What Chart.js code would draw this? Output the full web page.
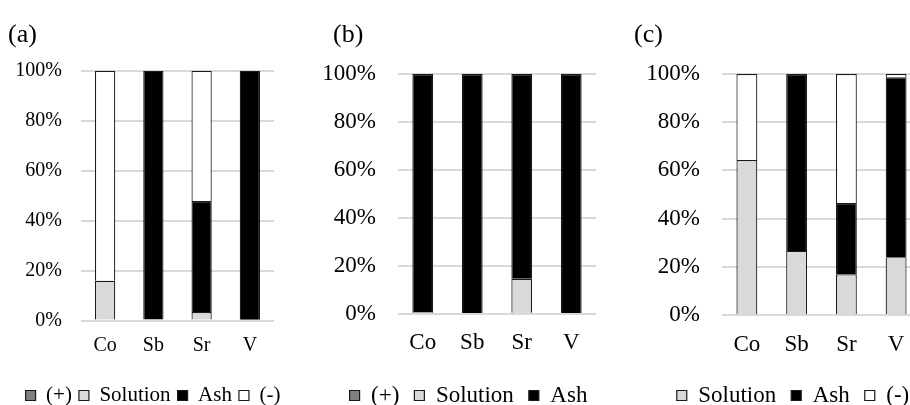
<!DOCTYPE html>
<html>
<head>
<meta charset="utf-8">
<script src="https://cdn.jsdelivr.net/npm/chart.js@4.4.1/dist/chart.umd.min.js"></script>
<style>
  html, body { margin: 0; padding: 0; background: #fff; overflow: hidden; }
  body { width: 910px; height: 405px; position: relative; }
  .box { position: absolute; top: 0; }
</style>
</head>
<body>
<div class="box" style="left:8px;width:290px;height:416px"><canvas id="chartA"></canvas></div>
<div class="box" style="left:318px;width:301px;height:417px"><canvas id="chartB"></canvas></div>
<div class="box" style="left:634px;width:318px;height:417px"><canvas id="chartC"></canvas></div>
<script>
// elements on the x axis
const elements = ['Co', 'Sb', 'Sr', 'V'];
const yTicks = [0, 20, 40, 60, 80, 100];

// (a) share of each element, %
const plusA = [0.5, 0.5, 0.5, 0];
const solutionA = [15.5, 0, 3, 0];
const ashA = [0, 99.5, 44.4, 100];
const minusA = [84, 0, 52.1, 0];

// (b)
const plusB = [0.5, 0, 0.5, 0];
const solutionB = [0.3, 0, 14.2, 0];
const ashB = [99.2, 100, 85.3, 100];

// (c)
const solutionC = [64.3, 26.6, 16.9, 24];
const ashC = [0, 73.4, 29.6, 74.6];
const minusC = [35.7, 0, 53.5, 1.4];

const serif = 'Liberation Serif, Times New Roman, serif';

// panel letter in the top left corner
const panelTitle = {
    id: 'panelTitle',
    afterDraw(chart, args, opts) {
        const ctx = chart.ctx;
        ctx.save();
        ctx.fillStyle = '#000';
        ctx.font = '26px ' + serif;
        ctx.textBaseline = 'middle';
        ctx.textAlign = 'left';
        ctx.fillText(opts.text, opts.x, 35);
        ctx.restore();
    }
};

function ds(label, values, fill) {
    return {
        label: label,
        data: values.map(v => v || null),
        backgroundColor: fill,
        borderColor: '#1a1a1a',
        borderWidth: 1.2,
        categoryPercentage: 1,
        barPercentage: 0.42
    };
}

function makeChart(id, title, datasets, opt) {
    new Chart(document.getElementById(id), {
        type: 'bar',
        data: { labels: elements, datasets: datasets },
        plugins: [panelTitle],
        options: {
            responsive: true,
            maintainAspectRatio: false,
            animation: false,
            layout: { padding: { left: 0, right: 0, top: opt.top, bottom: 0 } },
            plugins: {
                tooltip: { enabled: false },
                panelTitle: { text: title, x: opt.titleX },
                legend: {
                    position: 'bottom',
                    labels: {
                        color: '#000',
                        boxWidth: 10,
                        boxHeight: 10,
                        padding: opt.legendGap,
                        font: { family: serif, size: opt.legendSize }
                    }
                }
            },
            scales: {
                x: {
                    stacked: true,
                    grid: { display: false },
                    border: { display: false },
                    afterFit: axis => { axis.height = opt.xHeight; },
                    ticks: { color: '#000', padding: opt.xPad, font: { family: serif, size: opt.fontSize } }
                },
                y: {
                    stacked: true,
                    min: 0,
                    max: 100,
                    afterBuildTicks: axis => { axis.ticks = yTicks.map(v => ({ value: v })); },
                    afterFit: axis => { axis.width = opt.yWidth; },
                    grid: { color: '#d9d9d9', lineWidth: 2, drawTicks: false },
                    border: { display: false },
                    ticks: {
                        color: '#000',
                        padding: opt.tickPad,
                        font: { family: serif, size: opt.fontSize },
                        callback: v => v + '%'
                    }
                },
                // empty right axis, only keeps room on the right of the bars
                y2: {
                    position: 'right',
                    grid: { display: false },
                    border: { display: false },
                    ticks: { display: false },
                    afterFit: axis => { axis.width = opt.rightGap; }
                }
            }
        }
    });
}

makeChart('chartA', '(a)', [
    ds('(+)', plusA, '#7f7f7f'),
    ds('Solution', solutionA, '#d9d9d9'),
    ds('Ash', ashA, '#000000'),
    ds('(-)', minusA, '#ffffff')
], { titleX: 0, top: 70.7, xHeight: 57.3, xPad: 5, yWidth: 73, tickPad: 19, rightGap: 24,
     fontSize: 20, legendSize: 21, legendGap: 7 });

makeChart('chartB', '(b)', [
    ds('(+)', plusB, '#7f7f7f'),
    ds('Solution', solutionB, '#d9d9d9'),
    ds('Ash', ashB, '#000000')
], { titleX: 15, top: 74, xHeight: 55, xPad: 7, yWidth: 80, tickPad: 22, rightGap: 23,
     fontSize: 23, legendSize: 23, legendGap: 15 });

makeChart('chartC', '(c)', [
    ds('Solution', solutionC, '#d9d9d9'),
    ds('Ash', ashC, '#000000'),
    ds('(-)', minusC, '#ffffff')
], { titleX: 0, top: 74, xHeight: 54, xPad: 7.8, yWidth: 88, tickPad: 22, rightGap: 31,
     fontSize: 23, legendSize: 23, legendGap: 15 });
</script>
</body>
</html>
